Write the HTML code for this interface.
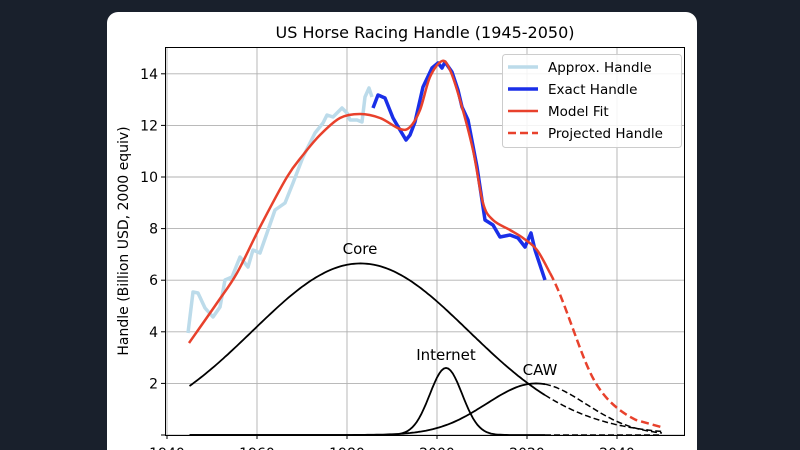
<!DOCTYPE html>
<html><head><meta charset="utf-8"><style>
html,body{margin:0;padding:0;background:#19202c;width:800px;height:450px;overflow:hidden}
svg{position:absolute;left:0;top:0}
text{font-family:"DejaVu Sans","Liberation Sans",sans-serif;fill:#000}
</style></head><body>
<svg id="s" width="800" height="450" viewBox="0 0 800 450">
<rect x="107" y="12" width="590" height="460" rx="11" fill="#fff"/>
<text x="425" y="38" font-size="16" text-anchor="middle">US Horse Racing Handle (1945-2050)</text>
<g id="grid" stroke="#b0b0b0" stroke-width="0.9"></g>
<g id="ticks" font-size="14"></g>
<text transform="translate(128,241) rotate(-90)" font-size="14" text-anchor="middle">Handle (Billion USD, 2000 equiv)</text>
<g id="curves" fill="none"></g>
<polyline fill="none" stroke="#bcdbea" stroke-width="3.5" stroke-linejoin="round" points="188,333 193,292 198,293 205,308 213,317 220,307 225,280 232,277 240,257 248,267 253,250 260,253 267,233 275,210 285,203 293,183 303,157 315,133 323,123 327,115 333,117 342,108 347,113 350,120 357,120 362,122 365,97 369,88 372,97"/>
<polyline fill="none" stroke="#1a2fe8" stroke-width="3.5" stroke-linejoin="round" points="373,108 378,95 385,98 393,118 400,130 406,140 410,135 415,122 423,87 432,68 438,63 442,68 445,62 452,72 458,90 462,107 468,120 477,167 485,220 493,225 500,237 510,235 518,238 525,247 531,233 535,250 545,280"/>
<path id="fit" fill="none" stroke="#e8412c" stroke-width="2.5" stroke-linejoin="round"/>
<path fill="none" stroke="#e8412c" stroke-width="2.5" stroke-dasharray="8,4" d="M550,273 C565,300 580,355 594,380 C605,400 620,412 636,420 L661,427"/>
<rect x="165.5" y="47.5" width="519" height="388" fill="none" stroke="#000" stroke-width="1"/>
<text x="360" y="254" font-size="15" text-anchor="middle">Core</text>
<text x="446" y="360" font-size="15" text-anchor="middle">Internet</text>
<text x="540" y="375" font-size="15" text-anchor="middle">CAW</text>
<rect x="502.5" y="54.5" width="179" height="93" rx="3" fill="#fff" fill-opacity="0.85" stroke="#ccc"/>
<line x1="508" y1="67" x2="538" y2="67" stroke="#bcdbea" stroke-width="3.5"/>
<line x1="508" y1="89" x2="538" y2="89" stroke="#1a2fe8" stroke-width="3.5"/>
<line x1="508" y1="111" x2="538" y2="111" stroke="#e8412c" stroke-width="2.5"/>
<line x1="508" y1="133" x2="538" y2="133" stroke="#e8412c" stroke-width="2.5" stroke-dasharray="8,4"/>
<g font-size="13.5"><text x="548" y="72">Approx. Handle</text><text x="548" y="94">Exact Handle</text><text x="548" y="116">Model Fit</text><text x="548" y="138">Projected Handle</text></g>
</svg>
<script>
var NS="http://www.w3.org/2000/svg";
function X(y){return 167+(y-1940)*4.5}function Y(v){return 435-v*25.8}
function el(p,t,a,txt){var e=document.createElementNS(NS,t);for(var k in a)e.setAttribute(k,a[k]);if(txt)e.textContent=txt;document.getElementById(p).appendChild(e);}
for(var yr=1940;yr<=2040;yr+=20){el("grid","line",{x1:X(yr),x2:X(yr),y1:47,y2:435});el("ticks","line",{x1:X(yr),x2:X(yr),y1:435,y2:439,stroke:"#000"});el("ticks","text",{x:X(yr),y:458,"text-anchor":"middle"},yr);}
for(var v=0;v<=14;v+=2){el("grid","line",{x1:165,x2:685,y1:Y(v),y2:Y(v)});el("ticks","line",{x1:161,x2:165,y1:Y(v),y2:Y(v),stroke:"#000"});el("ticks","text",{x:158,y:Y(v)+5,"text-anchor":"end"},v);}
function g(a,m,s){return function(t){return a*Math.exp(-(t-m)*(t-m)/(2*s*s))}}
var fs=[g(6.65,1983,24),g(2.6,2002,3.6),g(2.0,2022,11)];
fs.forEach(function(f){var s="",d="";for(var t=1945;t<=2050;t+=0.5){var p=X(t).toFixed(1)+","+Y(f(t)).toFixed(1)+" ";if(t<=2024)s+=p;if(t>=2024)d+=p;}
el("curves","polyline",{points:s,stroke:"#000","stroke-width":1.8});el("curves","polyline",{points:d,stroke:"#000","stroke-width":1.5,"stroke-dasharray":"6,3"});});
var P=[[189,343],[217,303],[237,273],[260,227],[287,177],[303,155],[320,135],[340,118],[360,114],[380,118],[400,129],[410,127],[420,110],[430,77],[442,61],[450,70],[460,100],[473,150],[483,203],[493,220],[510,230],[523,238],[537,250],[550,273]];
var d="M"+P[0][0]+","+P[0][1];
for(var i=0;i<P.length-1;i++){var p0=P[Math.max(0,i-1)],p1=P[i],p2=P[i+1],p3=P[Math.min(P.length-1,i+2)];
d+=" C"+(p1[0]+(p2[0]-p0[0])/6)+","+(p1[1]+(p2[1]-p0[1])/6)+" "+(p2[0]-(p3[0]-p1[0])/6)+","+(p2[1]-(p3[1]-p1[1])/6)+" "+p2[0]+","+p2[1];}
document.getElementById("fit").setAttribute("d",d);
</script>
</body></html>
